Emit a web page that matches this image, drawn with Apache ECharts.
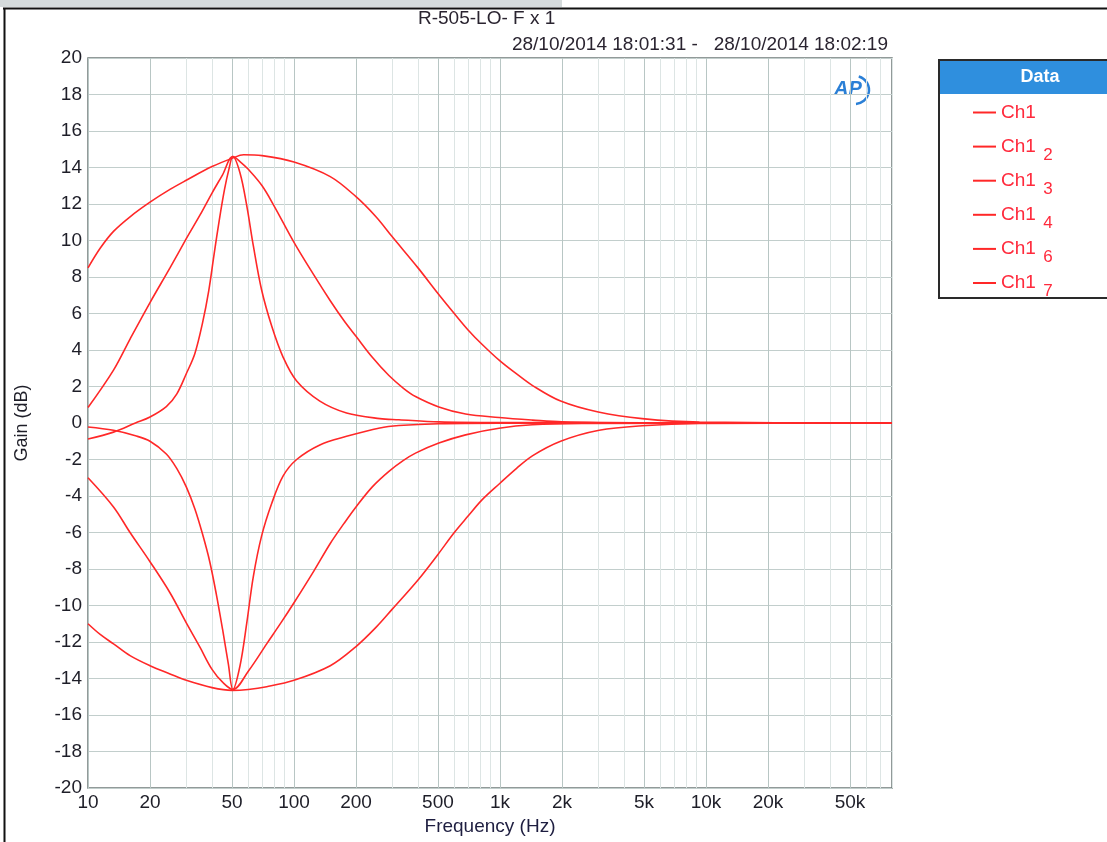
<!DOCTYPE html>
<html>
<head>
<meta charset="utf-8">
<script src="https://cdn.jsdelivr.net/npm/echarts@6/dist/echarts.min.js"></script>
<style>
html,body{margin:0;padding:0;background:#fff;}
#chart{width:1107px;height:842px;}
</style>
</head>
<body>
<div id="chart"></div>
<script>
// ---- data ----
const titleText = 'R-505-LO- F x 1';
const subtitleText = '28/10/2014 18:01:31 -   28/10/2014 18:02:19';
const seriesNames = ['Ch1', 'Ch1 2', 'Ch1 3', 'Ch1 4', 'Ch1 6', 'Ch1 7'];

const majorTicks = [10, 20, 50, 100, 200, 500, 1000, 2000, 5000, 10000, 20000, 50000];
const minorTicks = [30, 40, 60, 70, 80, 90, 300, 400, 600, 700, 800, 900, 3000, 4000, 6000, 7000, 8000, 9000, 30000, 40000, 60000, 70000, 80000];

// wide boost
const wideBoostFreq = [10, 11.5, 13.3, 16, 20, 25, 30, 40, 50, 57, 70, 100, 150, 200, 250, 300, 400, 500, 600, 700, 820, 1000, 1200, 1440, 1970, 3000, 4900, 9300, 80000];
const wideBoostGain = [8.5, 9.6, 10.5, 11.3, 12.1, 12.8, 13.3, 14.05, 14.5, 14.7, 14.65, 14.3, 13.5, 12.4, 11.3, 10.2, 8.5, 7.1, 6.0, 5.1, 4.3, 3.4, 2.7, 2.05, 1.2, 0.6, 0.24, 0.05, 0];
// medium boost
const midBoostFreq = [10, 13.3, 16, 20, 25, 30, 35, 40, 45, 50.5, 55, 60, 70, 80, 100, 125, 150, 175, 200, 240, 289, 340, 389, 505, 681, 989, 1436, 2000, 5000, 80000];
const midBoostGain = [0.85, 2.9, 4.6, 6.6, 8.5, 10.1, 11.4, 12.6, 13.6, 14.6, 14.3, 13.9, 13.0, 11.9, 9.9, 8.1, 6.7, 5.6, 4.75, 3.6, 2.6, 1.9, 1.45, 0.88, 0.49, 0.3, 0.16, 0.06, 0.01, 0];
// narrow boost
const narrowBoostFreq = [10, 13.3, 17, 20, 24, 27, 30, 33, 36, 38.5, 41, 43.5, 46, 48.3, 50.5, 54.7, 59, 63.5, 69.6, 78, 88.6, 103, 133.5, 180, 261, 323, 505, 1000, 80000];
const narrowBoostGain = [-0.88, -0.5, 0.0, 0.33, 0.9, 1.6, 2.7, 3.8, 5.5, 7.2, 9.3, 11.2, 12.8, 13.9, 14.6, 13.7, 11.9, 9.7, 7.3, 5.3, 3.6, 2.3, 1.2, 0.55, 0.24, 0.18, 0.06, 0.02, 0];
// narrow cut
const narrowCutFreq = [10, 13.3, 17, 20, 24, 27, 30, 33, 36, 39, 42, 45, 48, 50.5, 54.7, 59, 63.5, 69.6, 78, 88.6, 103, 133.5, 180, 261, 323, 505, 1000, 80000];
const narrowCutGain = [-0.22, -0.4, -0.7, -1.0, -1.7, -2.5, -3.5, -4.7, -6.1, -7.6, -9.4, -11.3, -13.2, -14.6, -13.3, -10.95, -8.4, -6.2, -4.4, -2.9, -2.0, -1.2, -0.73, -0.27, -0.14, -0.04, -0.01, 0];
// medium cut
const midCutFreq = [10, 13.3, 16, 20, 25, 30, 35, 40, 45, 50.5, 60, 73.7, 87, 100, 125, 150, 175, 200, 240, 289, 340, 389, 505, 681, 989, 1436, 2500, 80000];
const midCutGain = [-3.0, -4.6, -6.0, -7.6, -9.3, -10.95, -12.3, -13.5, -14.2, -14.6, -13.6, -12.1, -10.9, -9.85, -8.1, -6.6, -5.5, -4.6, -3.5, -2.65, -2.05, -1.65, -1.1, -0.65, -0.29, -0.1, -0.03, 0];
// wide cut
const wideCutFreq = [10, 11.5, 13.3, 16, 20, 25, 30, 40, 50, 60, 73.7, 100, 150, 200, 250, 300, 400, 500, 600, 700, 820, 1000, 1200, 1436, 1970, 3030, 4920, 9300, 80000];
const wideCutGain = [-11.0, -11.6, -12.1, -12.75, -13.3, -13.75, -14.1, -14.5, -14.65, -14.6, -14.45, -14.1, -13.3, -12.25, -11.2, -10.2, -8.6, -7.2, -6.0, -5.1, -4.2, -3.3, -2.5, -1.8, -1.0, -0.4, -0.15, -0.03, 0];

// ---- chart ----
const FONT = "'Liberation Sans', Arial, sans-serif";
const RED = '#ff2828';
const curves = [
  [wideBoostFreq, wideBoostGain],
  [midBoostFreq, midBoostGain],
  [narrowBoostFreq, narrowBoostGain],
  [narrowCutFreq, narrowCutGain],
  [midCutFreq, midCutGain],
  [wideCutFreq, wideCutGain]
];

const chart = echarts.init(document.getElementById('chart'), null, {renderer: 'canvas'});

const option = {
  animation: false,
  backgroundColor: '#ffffff',
  title: [
    {text: titleText, left: 418, top: 9, padding: 0, textStyle: {fontFamily: FONT, fontSize: 19, fontWeight: 'normal', color: '#2a2430'}},
    {text: subtitleText, right: 219, top: 35, padding: 0, textStyle: {fontFamily: FONT, fontSize: 19, fontWeight: 'normal', color: '#2a2430'}}
  ],
  grid: {left: 88, right: 215, top: 58, bottom: 54, show: true, outerBoundsMode: 'none', containLabel: false,
         borderColor: '#6f7978', borderWidth: 1.5, backgroundColor: 'transparent'},
  legend: {
    orient: 'vertical', left: 973, top: 103, padding: 0, itemGap: 7.6,
    itemWidth: 23, itemHeight: 2, icon: 'rect',
    data: seriesNames,
    formatter: function (name) {
      const parts = name.split(' ');
      return parts.length > 1 ? '{a|Ch1 }{s|' + parts[1] + '}' : '{a|Ch1 }{s| }';
    },
    textStyle: {
      color: '#ff2a3c', fontFamily: FONT, fontSize: 19,
      rich: {
        a: {color: '#ff2a3c', fontFamily: FONT, fontSize: 19, lineHeight: 34, verticalAlign: 'middle'},
        s: {color: '#ff2a3c', fontFamily: FONT, fontSize: 17, lineHeight: 20, verticalAlign: 'bottom', padding: [0, 0, 0, 2]}
      }
    }
  },
  xAxis: [
    {
      type: 'log', logBase: 10, min: 10, max: 80000, gridIndex: 0,
      axisLine: {show: false},
      axisTick: {show: false, customValues: majorTicks},
      axisLabel: {
        customValues: majorTicks, color: '#1e1e28', fontFamily: FONT, fontSize: 19, margin: 5,
        formatter: function (v) { return v >= 1000 ? (v / 1000) + 'k' : String(v); }
      },
      splitLine: {show: true, lineStyle: {color: '#b8c6c4', width: 1}},
      name: 'Frequency (Hz)', nameLocation: 'middle', nameGap: 28,
      nameTextStyle: {fontFamily: FONT, fontSize: 19, color: '#1e1e40'}
    },
    {
      type: 'log', logBase: 10, min: 10, max: 80000, gridIndex: 0, position: 'bottom',
      axisLine: {show: false},
      axisTick: {show: false, customValues: minorTicks},
      axisLabel: {show: false, customValues: minorTicks},
      splitLine: {show: true, lineStyle: {color: '#dde5e4', width: 1}}
    }
  ],
  yAxis: {
    type: 'value', min: -20, max: 20, interval: 2,
    axisLine: {show: false}, axisTick: {show: false},
    axisLabel: {color: '#1e1e28', fontFamily: FONT, fontSize: 19, margin: 6},
    splitLine: {show: true, lineStyle: {color: '#c2cecc', width: 1}},
    name: 'Gain (dB)', nameLocation: 'middle', nameGap: 57, nameRotate: 90,
    nameTextStyle: {fontFamily: FONT, fontSize: 18, color: '#1e1e28'}
  },
  series: curves.map(function (c, i) {
    return {
      name: seriesNames[i], type: 'line', xAxisIndex: 0, yAxisIndex: 0,
      data: c[0].map(function (f, j) { return [f, c[1][j]]; }),
      symbol: 'none', showSymbol: false, smooth: 0.35,
      lineStyle: {color: RED, width: 1.6}, itemStyle: {color: RED},
      emphasis: {disabled: true}, z: 3
    };
  }),
  graphic: [
    {type: 'rect', shape: {x: 0, y: 0, width: 562, height: 7}, style: {fill: '#d5dbdc'}, silent: true, z: 0},
    {type: 'line', shape: {x1: 3, y1: 8.5, x2: 1107, y2: 8.5}, style: {stroke: '#111', lineWidth: 2}, silent: true},
    {type: 'line', shape: {x1: 4.5, y1: 8, x2: 4.5, y2: 842}, style: {stroke: '#111', lineWidth: 2}, silent: true},
    {type: 'rect', shape: {x: 939, y: 60, width: 200, height: 238}, style: {fill: '#fff', stroke: '#2a2a2a', lineWidth: 2}, silent: true, z: -1},
    {type: 'rect', shape: {x: 940, y: 61, width: 200, height: 33}, style: {fill: '#2f8fde'}, silent: true},
    {type: 'text', x: 1040, y: 77, style: {text: 'Data', fill: '#ffffff', font: 'bold 18px ' + FONT, align: 'center', verticalAlign: 'middle'}, silent: true},
    {type: 'text', x: 834, y: 79, style: {text: 'AP', fill: '#2a7fd6', font: 'italic bold 20px ' + FONT}, silent: true},
    {type: 'arc', shape: {cx: 855, cy: 90, r: 14, startAngle: -1.3, endAngle: 1.5}, style: {stroke: '#2a7fd6', lineWidth: 2.5, fill: null}, silent: true}
  ]
};

chart.setOption(option);
</script>
</body>
</html>
